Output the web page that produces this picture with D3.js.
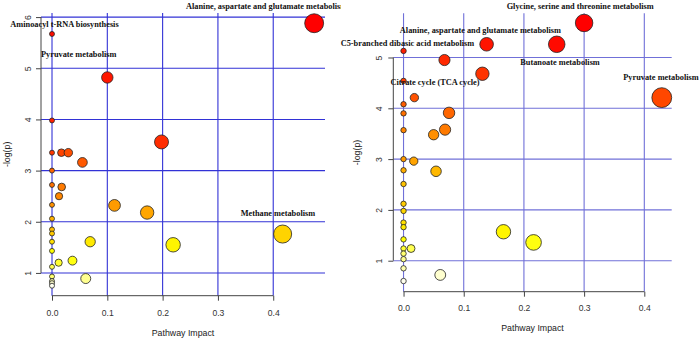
<!DOCTYPE html>
<html>
<head>
<meta charset="utf-8">
<script src="https://cdn.jsdelivr.net/npm/d3@7/dist/d3.min.js"></script>
<style>
  body { margin: 0; background: #fff; }
  svg { display: block; }
</style>
</head>
<body>
<svg id="chart" width="700" height="339"></svg>
<script>
// left panel data
let leftImpact = [0.474, 0, 0.1, 0, 0.198, 0, 0.017, 0.0295, 0.055, 0, 0, 0.0175, 0.0127, 0, 0.113, 0.172,
                  0, 0, 0.417, 0, 0, 0.069, 0.219, 0, 0.037, 0.012, 0, 0, 0.061, 0, 0, 0];
let leftLogP   = [5.88, 5.67, 4.82, 3.98, 3.56, 3.35, 3.35, 3.35, 3.16, 3.0, 2.72, 2.68, 2.50, 2.33, 2.32, 2.18,
                  2.06, 1.85, 1.76, 1.77, 1.61, 1.61, 1.55, 1.43, 1.24, 1.20, 1.12, 0.93, 0.89, 0.84, 0.80, 0.75];
let leftLabels = ["Aminoacyl t-RNA biosynthesis", "Pyruvate metabolism",
                  "Alanine, aspartate and glutamate metabolism", "Methane metabolism"];
let leftLabelX = [0.0226, 0.0483, 0.388, 0.4085];
let leftLabelY = [5.81, 5.22, 6.16, 2.11];

// right panel data
let rightImpact = [0.300, 0.2545, 0.138, 0, 0.068, 0.131, 0, 0.429, 0.018, 0, 0.0756, 0, 0.069, 0, 0.050, 0, 0.017,
                   0, 0.054, 0, 0, 0, 0, 0, 0.166, 0, 0.216, 0, 0.0125, 0, 0, 0, 0.061, 0];
let rightLogP   = [5.68, 5.26, 5.26, 5.13, 4.95, 4.68, 4.54, 4.21, 4.21, 4.08, 3.91, 3.90, 3.58, 3.57, 3.48, 3.0, 2.96,
                   2.78, 2.76, 2.51, 2.12, 1.98, 1.75, 1.66, 1.57, 1.42, 1.36, 1.24, 1.24, 1.14, 1.03, 0.85, 0.72, 0.60];
let rightLabels = ["Glycine, serine and threonine metabolism", "Alanine, aspartate and glutamate metabolism",
                   "C5-branched dibasic acid metabolism", "Citrate cycle (TCA cycle)",
                   "Butanoate metabolism", "Pyruvate metabolism"];
let rightLabelX = [0.2935, 0.1277, 0.0065, 0.0523, 0.26, 0.4277];
let rightLabelY = [5.957, 5.49, 5.236, 4.46, 4.854, 4.56];

let xTicks = [0, 0.1, 0.2, 0.3, 0.4];
let leftYTicks = [1, 2, 3, 4, 5, 6];
let rightYTicks = [1, 2, 3, 4, 5];

let svg = d3.select("#chart");

// R style heat.colors(n)
function heatColors(n) {
    let j = Math.floor(n / 4), i = n - j;
    let cols = [];
    for (let k = 0; k < i; k++) {
        let h = i > 1 ? k / (i - 1) / 6 : 0;
        cols.push(d3.rgb(255, Math.round(h * 6 * 255), 0).formatHex());
    }
    for (let k = 0; k < j; k++) {
        let s0 = 1 - 1 / (2 * j), s1 = 1 / (2 * j);
        let s = j > 1 ? s0 + (s1 - s0) * k / (j - 1) : s0;
        cols.push(d3.rgb(255, 255, Math.round((1 - s) * 255)).formatHex());
    }
    return cols;
}

function drawPanel(p) {
    let g = svg.append("g").attr("clip-path", "url(#" + p.clip + ")");
    let x = d3.scaleLinear().domain(p.xDom).range(p.xRange);
    let y = d3.scaleLinear().domain(p.yDom).range(p.yRange);

    // grid
    g.selectAll("line.hgrid").data(p.yTicks).enter().append("line")
        .attr("class", "hgrid")
        .attr("x1", p.xRange[0]).attr("x2", p.xRange[1])
        .attr("y1", d => y(d)).attr("y2", d => y(d))
        .attr("stroke", p.grid).attr("stroke-width", 1.1);
    g.selectAll("line.vgrid").data(xTicks).enter().append("line")
        .attr("class", "vgrid")
        .attr("x1", d => x(d)).attr("x2", d => x(d))
        .attr("y1", p.yRange[1]).attr("y2", p.yRange[0])
        .attr("stroke", p.grid).attr("stroke-width", 1.1);

    // x axis
    let xa = g.append("g").attr("transform", "translate(0," + p.yRange[0] + ")")
        .call(d3.axisBottom(x).tickValues(xTicks).tickFormat(d3.format(".1f")).tickSize(5).tickPadding(p.xPad));
    xa.select(".domain").remove();
    xa.append("line").attr("x1", x(xTicks[0])).attr("x2", x(xTicks[xTicks.length - 1]))
        .attr("stroke", "#444");
    xa.selectAll(".tick line").attr("stroke", "#444");
    xa.selectAll("text").attr("fill", "#333").style("font", "8.6px 'Liberation Sans', Arial, sans-serif");

    // y axis
    let ya = g.append("g").attr("transform", "translate(" + p.xRange[0] + ",0)")
        .call(d3.axisLeft(y).tickValues(p.yTicks).tickFormat(d3.format("d")).tickSize(5));
    ya.select(".domain").remove();
    ya.append("line").attr("y1", y(p.yTicks[0])).attr("y2", y(p.yTicks[p.yTicks.length - 1]))
        .attr("stroke", "#444");
    ya.selectAll(".tick line").attr("stroke", "#444");
    ya.selectAll("text")
        .attr("x", 0).attr("dy", "0.35em")
        .attr("text-anchor", "middle")
        .attr("transform", "translate(" + p.yLab + ",0) rotate(-90)")
        .attr("fill", "#333").style("font", "8.6px 'Liberation Sans', Arial, sans-serif");

    // axis titles
    g.append("text").attr("x", (p.xRange[0] + p.xRange[1]) / 2).attr("y", p.xTitleY)
        .attr("text-anchor", "middle").attr("fill", "#222")
        .style("font", "8.8px 'Liberation Sans', Arial, sans-serif").text("Pathway Impact");
    g.append("text")
        .attr("transform", "translate(" + p.yTitleX + "," + (p.yRange[0] + p.yRange[1]) / 2 + ") rotate(-90)")
        .attr("text-anchor", "middle").attr("dy", "0.35em").attr("fill", "#222")
        .style("font", "8.8px 'Liberation Sans', Arial, sans-serif").text("-log(p)");

    // circles: colour by rank of -log(p), size by sqrt(impact)
    let cols = heatColors(p.logp.length);
    let order = d3.range(p.logp.length).sort((a, b) => p.logp[b] - p.logp[a]);
    let fill = [];
    order.forEach((idx, r) => fill[idx] = cols[r]);
    let pts = p.impact.map((v, i) => ({ x: v, y: p.logp[i], c: fill[i] }));
    let rad = d => x(0.0045 + 0.0183 * Math.sqrt(d)) - x(0);
    g.selectAll("circle.pt").data(pts).enter().append("circle")
        .attr("class", "pt")
        .attr("cx", d => x(d.x)).attr("cy", d => y(d.y))
        .attr("r", d => rad(d.x))
        .attr("fill", d => d.c)
        .attr("stroke", "#222").attr("stroke-width", 0.8);

    // labels
    g.selectAll("text.lab").data(p.labels).enter().append("text")
        .attr("class", "lab")
        .attr("x", (d, i) => x(p.labelX[i])).attr("y", (d, i) => y(p.labelY[i]))
        .attr("text-anchor", "middle").attr("fill", "#111")
        .style("font", "bold 8.3px 'Liberation Serif', 'Times New Roman', serif")
        .text(d => d);
}

let defs = svg.append("defs");
defs.append("clipPath").attr("id", "clipL").append("rect").attr("x", 0).attr("y", 0).attr("width", 341).attr("height", 339);
defs.append("clipPath").attr("id", "clipR").append("rect").attr("x", 340).attr("y", 0).attr("width", 360).attr("height", 339);

drawPanel({
    clip: "clipL", impact: leftImpact, logp: leftLogP,
    labels: leftLabels, labelX: leftLabelX, labelY: leftLabelY,
    xDom: [-0.0199, 0.4936], xRange: [41, 325],
    yDom: [0.555, 6.08], yRange: [295.7, 13],
    yTicks: leftYTicks, grid: "#3232d6",
    xPad: 9, yLab: -13, xTitleY: 336, yTitleX: 7
});
drawPanel({
    clip: "clipR", impact: rightImpact, logp: rightLogP,
    labels: rightLabels, labelX: rightLabelX, labelY: rightLabelY,
    xDom: [-0.017, 0.4455], xRange: [393.3, 671.7],
    yDom: [0.39, 5.87], yRange: [291.7, 13.3],
    yTicks: rightYTicks, grid: "#7070d8",
    xPad: 8, yLab: -14.3, xTitleY: 331, yTitleX: 357
});
</script>
</body>
</html>
